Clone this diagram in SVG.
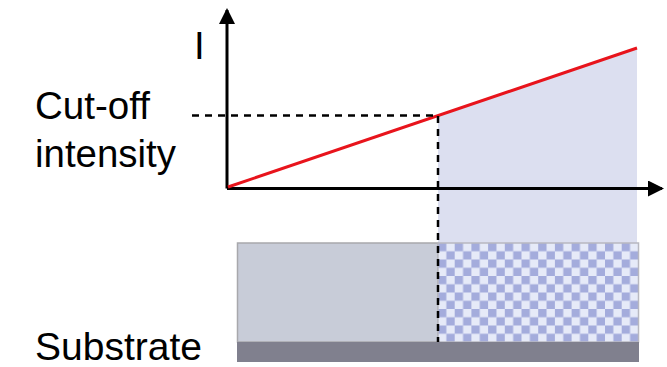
<svg xmlns="http://www.w3.org/2000/svg" width="667" height="367" viewBox="0 0 667 367">
  <style>
    .lbl { font-family: "Liberation Sans", Arial, sans-serif; font-size: 38.5px; fill: #000; }
    .axis { stroke: #000; stroke-width: 3; fill: none; }
    .dash { stroke: #000; stroke-width: 2.5; stroke-dasharray: 7 6; fill: none; }
  </style>
  <defs>
    <pattern id="checker" x="438" y="243" width="16.7" height="16.5" patternUnits="userSpaceOnUse">
      <rect width="16.7" height="16.5" fill="#e6eaf8"/>
      <rect width="8.35" height="8.25" fill="#a4acdc"/>
      <rect x="8.35" y="8.25" width="8.35" height="8.25" fill="#a4acdc"/>
    </pattern>
    <marker id="arrow" viewBox="0 0 16 16" refX="14" refY="8" markerWidth="16" markerHeight="16" markerUnits="userSpaceOnUse" orient="auto">
      <path d="M0,0 L16,8 L0,16 Z" fill="#000"/>
    </marker>
  </defs>

  <g id="shaded-region">
    <polygon points="438,115.6 637,48 637,243 438,243" fill="#dcdff0"/>
  </g>

  <g id="substrate-layer">
    <rect x="237.5" y="243" width="200.5" height="99" fill="#c8ccd8" stroke="#a8a8ac" stroke-width="1.5"/>
    <rect x="438" y="243" width="200.5" height="99" fill="url(#checker)" stroke="#b8b8c0" stroke-width="1.5"/>
  </g>

  <g id="substrate-base">
    <rect x="237" y="342" width="402" height="20" fill="#80808e"/>
  </g>

  <g id="connectors">
    <line class="axis" x1="227" y1="188.5" x2="227" y2="10" marker-end="url(#arrow)"/>
    <line class="axis" x1="227" y1="188.5" x2="662" y2="188.5" marker-end="url(#arrow)"/>
    <line x1="228" y1="187" x2="637" y2="48" stroke="#e8141c" stroke-width="3"/>
    <line class="dash" x1="192" y1="115.5" x2="438" y2="115.5"/>
    <line class="dash" x1="438" y1="116" x2="438" y2="342"/>
  </g>

  <g id="labels">
    <text class="lbl" x="194" y="59" font-size="32">I</text>
    <text class="lbl" x="35" y="119" textLength="115" lengthAdjust="spacingAndGlyphs">Cut-off</text>
    <text class="lbl" x="35" y="167" textLength="141" lengthAdjust="spacingAndGlyphs">intensity</text>
    <text class="lbl" x="35" y="360" textLength="167" lengthAdjust="spacingAndGlyphs">Substrate</text>
  </g>
</svg>
